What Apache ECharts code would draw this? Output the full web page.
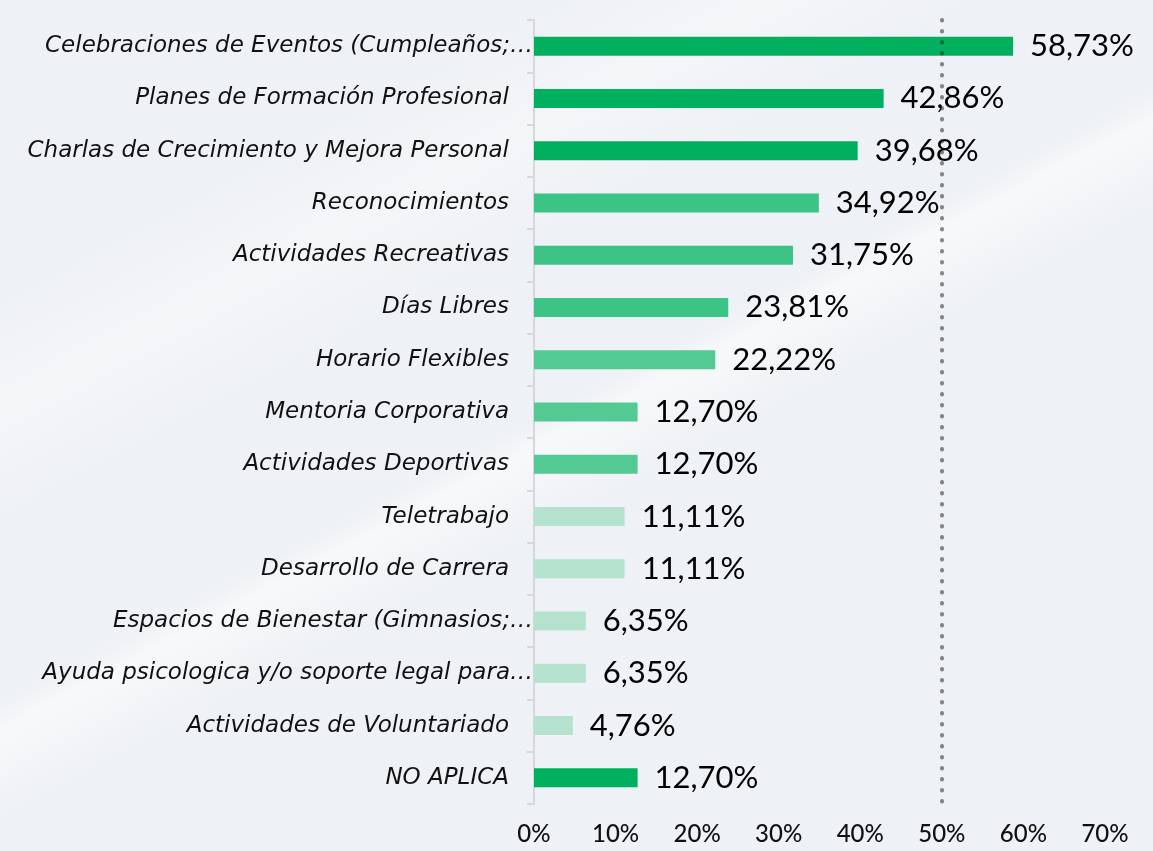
<!DOCTYPE html>
<html>
<head>
<meta charset="utf-8">
<script src="https://cdn.jsdelivr.net/npm/echarts@6/dist/echarts.min.js"></script>
<style>
  html, body {
    margin: 0;
    padding: 0;
    width: 1153px;
    height: 851px;
    overflow: hidden;
    background-color: #eef1f5;
    background-image:
      linear-gradient(152deg, rgba(255,255,255,0) 0%, rgba(255,255,255,0) 48%, rgba(255,255,255,0.55) 50%, rgba(255,255,255,0) 56%),
      linear-gradient(152deg, rgba(255,255,255,0) 20%, rgba(255,255,255,0.35) 28%, rgba(255,255,255,0) 36%);
  }
  #chart { width: 1153px; height: 851px; }
</style>
</head>
<body>
<div id="chart"></div>
<script>
  const categories = [
    'Celebraciones de Eventos (Cumpleaños;…',
    'Planes de Formación Profesional',
    'Charlas de Crecimiento y Mejora Personal',
    'Reconocimientos',
    'Actividades Recreativas',
    'Días Libres',
    'Horario Flexibles',
    'Mentoria Corporativa',
    'Actividades Deportivas',
    'Teletrabajo',
    'Desarrollo de Carrera',
    'Espacios de Bienestar (Gimnasios;…',
    'Ayuda psicologica y/o soporte legal para…',
    'Actividades de Voluntariado',
    'NO APLICA'
  ];
  const values = [58.73, 42.86, 39.68, 34.92, 31.75, 23.81, 22.22, 12.70, 12.70, 11.11, 11.11, 6.35, 6.35, 4.76, 12.70];
  const barColors = [
    '#00b05e', '#00b05e', '#00b05e',
    '#3cc386', '#3cc386', '#3cc386',
    '#53c994', '#53c994', '#53c994',
    '#b4e2cf', '#b4e2cf', '#b4e2cf', '#b4e2cf', '#b4e2cf',
    '#00b05e'
  ];
  const xTicks = { min: 0, max: 70, interval: 10 };
  const refLine = 50;

  const chart = echarts.init(document.getElementById('chart'));

  const labelFont = { fontFamily: 'DejaVu Sans', fontStyle: 'italic', fontSize: 23, color: '#111' };

  chart.setOption({
    backgroundColor: 'transparent',
    grid: { left: 534, right: 48, top: 20, bottom: 47, containLabel: false },
    xAxis: {
      type: 'value',
      min: xTicks.min,
      max: xTicks.max,
      interval: xTicks.interval,
      axisLine: { show: false },
      axisTick: { show: false },
      splitLine: { show: false },
      axisLabel: {
        margin: 18,
        fontFamily: 'Lato',
        fontSize: 24,
        fontWeight: 500,
        color: '#111',
        formatter: '{value}%'
      }
    },
    yAxis: {
      type: 'category',
      data: categories,
      inverse: true,
      axisLine: { lineStyle: { color: '#d6d8db', width: 2 } },
      axisTick: { show: true, length: 7, lineStyle: { color: '#d6d8db', width: 2 } },
      axisLabel: {
        margin: 1,
        formatter: (v) => v.endsWith('…') ? `{t|${v}}` : `{n|${v}}`,
        rich: {
          t: Object.assign({}, labelFont),
          n: Object.assign({ padding: [0, 24, 0, 0] }, labelFont)
        }
      }
    },
    series: [{
      type: 'bar',
      data: values.map((v, i) => ({ value: v, itemStyle: { color: barColors[i] } })),
      barWidth: 19,
      label: {
        show: true,
        position: 'right',
        distance: 17,
        fontFamily: 'Lato',
        fontSize: 31,
        color: '#000',
        formatter: (p) => p.value.toFixed(2).replace('.', ',') + '%'
      },
      markLine: {
        silent: true,
        symbol: 'none',
        label: { show: false },
        lineStyle: {
          color: 'rgba(40,40,40,0.55)',
          width: 4,
          type: [0.5, 10.5],
          cap: 'round'
        },
        data: [{ xAxis: refLine }]
      }
    }]
  });
</script>
</body>
</html>
